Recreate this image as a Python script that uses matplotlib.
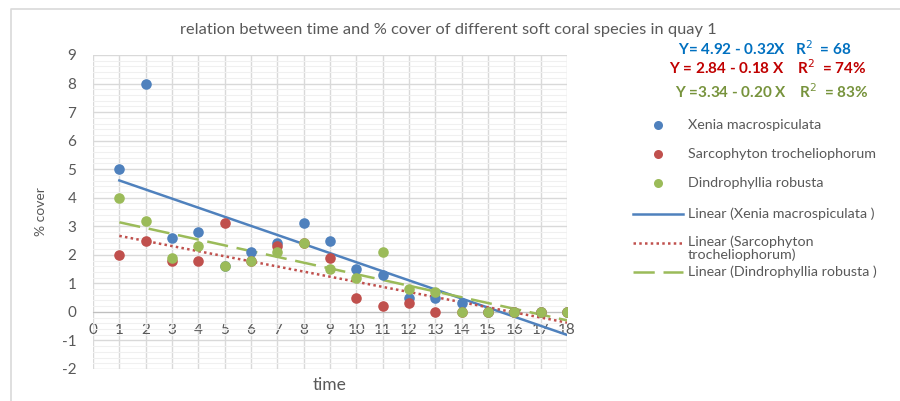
import numpy as np
import matplotlib
matplotlib.use("Agg")
import matplotlib.pyplot as plt
from matplotlib.lines import Line2D
from matplotlib.ticker import MultipleLocator

# ----------------------------
# Data
# ----------------------------
time = list(range(1, 19))
xenia = [5, 8, 2.6, 2.8, 1.6, 2.1, 2.4, 3.1, 2.5, 1.5, 1.3, 0.5, 0.5, 0.3, 0, 0, 0, 0]
sarco = [2, 2.5, 1.8, 1.8, 3.1, 1.8, 2.3, 2.4, 1.9, 0.5, 0.2, 0.3, 0, 0, 0, 0, 0, 0]
dindro = [4, 3.2, 1.9, 2.3, 1.6, 1.8, 2.1, 2.4, 1.5, 1.2, 2.1, 0.8, 0.7, 0, 0, 0, 0, 0]

names = ["Xenia macrospiculata", "Sarcophyton trocheliophorum", "Dindrophyllia robusta"]
trend_labels = ["Linear (Xenia macrospiculata )",
                "Linear (Sarcophyton\ntrocheliophorum)",
                "Linear (Dindrophyllia robusta )"]
equations = ["Y= 4.92 - 0.32X   R$^2$  = 68",
             "Y = 2.84 - 0.18 X    R$^2$  = 74%",
             "Y =3.34 - 0.20 X    R$^2$  = 83%"]

colors = ["#4F81BD", "#C0504D", "#9BBB59"]
eq_colors = ["#0070C0", "#C00000", "#77933C"]
styles = ["-", (0, (1, 1.3)), (0, (8.5, 3.5))]
gray = "#595959"

plt.rcParams['font.family'] = ['Lato', 'DejaVu Sans']
plt.rcParams['axes.unicode_minus'] = False

fig = plt.figure(figsize=(9, 4.01), dpi=100)
ax = fig.add_axes([93/900, 1 - 369/401, (567 - 93)/900, (369 - 55)/401])

# ----------------------------
# Scatter points + linear trend lines
# ----------------------------
x = np.array(time)
series = [xenia, sarco, dindro]
for ys, c in zip(series, colors):
    ax.scatter(x, ys, s=58, color=c, zorder=4, linewidths=0)

for ys, c, ls in zip(series, colors, styles):
    slope, intercept = np.polyfit(x, ys, 1)
    xx = np.array([x.min(), x.max()])
    ax.plot(xx, intercept + slope * xx, color=c, lw=1.8, linestyle=ls, zorder=3)

# ----------------------------
# Axes styling
# ----------------------------
ax.set_xlim(0, 18)
ax.set_ylim(-2, 9)
ax.xaxis.set_major_locator(MultipleLocator(1))
ax.yaxis.set_major_locator(MultipleLocator(1))
ax.yaxis.set_minor_locator(MultipleLocator(0.2))
ax.grid(which='major', color='#D9D9D9', lw=1)
ax.grid(which='minor', axis='y', color='#F0F0F0', lw=0.8)
ax.set_axisbelow(True)

for s in ['top', 'right', 'left']:
    ax.spines[s].set_visible(False)
ax.spines['bottom'].set_position(('data', 0))
ax.spines['bottom'].set_color('#BFBFBF')
ax.tick_params(axis='both', which='both', length=0, colors=gray, labelsize=11)
ax.tick_params(axis='x', pad=8)
ax.tick_params(axis='y', pad=12)

ax.set_xlabel("time", color=gray, fontsize=12.5)
ax.xaxis.set_label_coords(0.5, -0.025)
ax.set_ylabel("% cover", color=gray, fontsize=10)
ax.yaxis.set_label_coords(-0.098, 0.5)

fig.text(448/900, 1 - 30/401, "relation between time and % cover of different soft coral species in quay 1",
         ha='center', va='center', color=gray, fontsize=11.8)

# equations
eq_pos = [(765, 49), (768, 68), (772, 92)]
for txt, c, (px, py) in zip(equations, eq_colors, eq_pos):
    fig.text(px/900, 1 - py/401, txt, ha='center', va='center', color=c,
             fontsize=11, fontweight='bold')

# ----------------------------
# Legend (built manually)
# ----------------------------
for name, c, py in zip(names, colors, [125, 154, 183]):
    fig.add_artist(Line2D([658/900], [1 - py/401], marker='o', markersize=6.5,
                          color=c, markeredgewidth=0, transform=fig.transFigure))
    fig.text(688/900, 1 - py/401, name, va='center', ha='left', color=gray, fontsize=10.3)

for lab, c, ls, py in zip(trend_labels, colors, styles, [214, 243, 272]):
    fig.add_artist(Line2D([633/900, 683/900], [1 - py/401, 1 - py/401], color=c, lw=1.8,
                          linestyle=ls, transform=fig.transFigure))
    if '\n' in lab:
        fig.text(688/900, 1 - (py - 7.5)/401, lab, va='top', ha='left', color=gray,
                 fontsize=10.3, linespacing=1.05)
    else:
        fig.text(688/900, 1 - py/401, lab, va='center', ha='left', color=gray, fontsize=10.3)

# outer chart border (top and left only visible)
fig.add_artist(Line2D([11/900, 11/900, 1], [0, 1 - 9/401, 1 - 9/401], color='#D9D9D9',
                      lw=1.2, transform=fig.transFigure))

plt.savefig("out.png", dpi=100)
